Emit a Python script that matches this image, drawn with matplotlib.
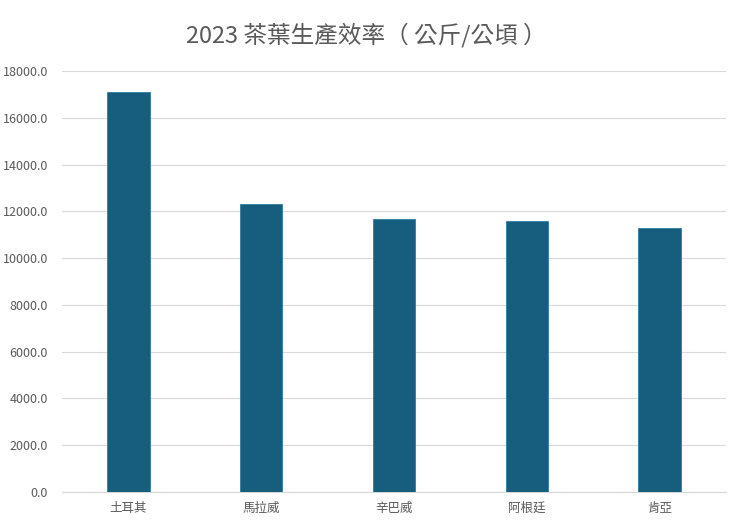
import numpy as np
import matplotlib.pyplot as plt
from matplotlib.ticker import FuncFormatter

plt.rcParams['font.family'] = ['Noto Sans CJK TC', 'DejaVu Sans']

paises = ["土耳其", "馬拉威", "辛巴威", "阿根廷", "肯亞"]
produtividade = [17110, 12310, 11660, 11590, 11300]
titulo = "2023 茶葉生產效率（ 公斤/公頃 ）"

fig = plt.figure(figsize=(7.4, 5.26), dpi=100)
ax = fig.add_axes([62 / 740, 1 - 492 / 526, (726 - 62) / 740, (492 - 71) / 526])

x = np.arange(len(paises))
ax.bar(x, produtividade, width=0.32, color="#175E7E", edgecolor="#2A7FA3", linewidth=0.6, zorder=3)

ax.set_xlim(-0.5, len(paises) - 0.5)
ax.set_ylim(0, 18000)
ax.set_yticks(np.arange(0, 18001, 2000))
ax.yaxis.set_major_formatter(FuncFormatter(lambda v, p: f"{v:.1f}"))
ax.set_xticks(x)
ax.set_xticklabels(paises)

ax.grid(axis="y", color="#D9D9D9", linewidth=0.8, zorder=0)
for lado in ["top", "right", "left"]:
    ax.spines[lado].set_visible(False)
ax.spines["bottom"].set_color("#D9D9D9")
ax.tick_params(axis="both", length=0, labelsize=9, colors="#595959")
ax.tick_params(axis="x", pad=7)
ax.tick_params(axis="y", pad=10)

fig.text(0.495, 1 - 35 / 526, titulo, ha="center", va="center", fontsize=17, color="#595959")

plt.savefig("out.png", dpi=100)
